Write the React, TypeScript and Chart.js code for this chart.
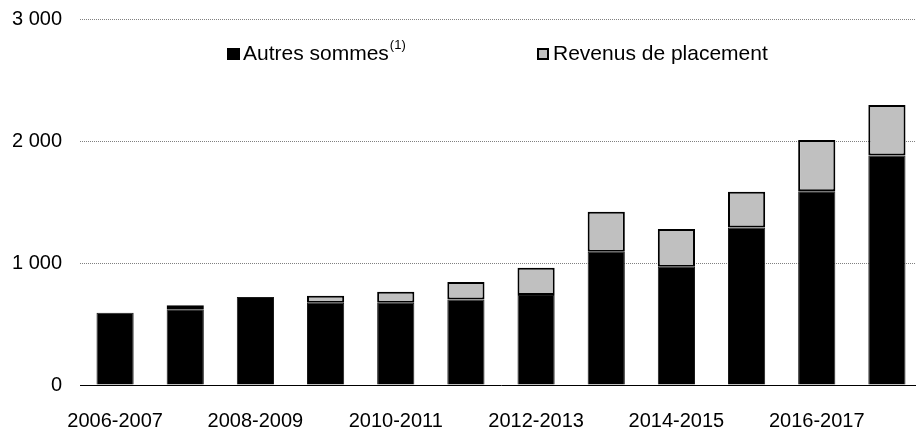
import React, { useEffect, useRef } from "react";
import { Chart, registerables } from "chart.js";

Chart.register(...registerables);

const categories = [
  "2006-2007", "2007-2008", "2008-2009", "2009-2010", "2010-2011", "2011-2012",
  "2012-2013", "2013-2014", "2014-2015", "2015-2016", "2016-2017", "2017-2018",
];
const autresSommes = [592, 620, 722, 675, 675, 700, 738, 1092, 970, 1292, 1588, 1882];
const revenusPlacement = [0, 33, 0, 57, 90, 145, 224, 328, 309, 293, 420, 413];
const yTickValues = [0, 1000, 2000, 3000];
const legendLabels = ["Autres sommes", "Revenus de placement"];
const legendSup = "(1)";

const FONT = '"Liberation Sans", Arial, Helvetica, sans-serif';

const fmt = (v: number) => String(v).replace(/\B(?=(\d{3})+(?!\d))/g, " ");

const legendPlugin = {
  id: "customLegend",
  afterDraw(chart: any) {
    const ctx = chart.ctx as CanvasRenderingContext2D;
    ctx.save();
    ctx.textBaseline = "alphabetic";
    ctx.textAlign = "left";
    // first item
    ctx.fillStyle = "#000";
    ctx.fillRect(227, 48, 13, 12);
    ctx.font = `21px ${FONT}`;
    ctx.fillText(legendLabels[0], 243, 60);
    const w = ctx.measureText(legendLabels[0]).width;
    ctx.font = `13px ${FONT}`;
    ctx.fillText(legendSup, 243 + w + 1, 49);
    // second item
    ctx.fillStyle = "#c0c0c0";
    ctx.fillRect(537, 48, 12, 12);
    ctx.strokeStyle = "#000";
    ctx.lineWidth = 2;
    ctx.strokeRect(538, 49, 10, 10);
    ctx.fillStyle = "#000";
    ctx.font = `21px ${FONT}`;
    ctx.fillText(legendLabels[1], 553, 60);
    ctx.restore();
  },
};

export default function App() {
  const ref = useRef<HTMLCanvasElement | null>(null);

  useEffect(() => {
    if (!ref.current) return;
    const chart = new Chart(ref.current, {
      type: "bar",
      data: {
        labels: categories,
        datasets: [
          {
            label: legendLabels[0],
            data: autresSommes,
            backgroundColor: "#000000",
            borderColor: "#1a1a1a",
            borderWidth: 1,
            borderSkipped: "start",
            barPercentage: 0.53,
            categoryPercentage: 1,
          },
          {
            label: legendLabels[1],
            data: revenusPlacement,
            backgroundColor: "#c0c0c0",
            borderColor: "#000000",
            borderWidth: 2,
            borderSkipped: false,
            barPercentage: 0.53,
            categoryPercentage: 1,
          },
        ],
      },
      options: {
        responsive: false,
        animation: false,
        devicePixelRatio: 1,
        layout: { padding: { top: 19, left: 0, right: 0, bottom: 0 } },
        plugins: {
          legend: { display: false },
          tooltip: { enabled: false },
        },
        scales: {
          x: {
            stacked: true,
            grid: { display: false, drawTicks: false },
            border: { display: true, color: "#000", width: 1 },
            ticks: {
              autoSkip: false,
              maxRotation: 0,
              minRotation: 0,
              padding: 24,
              color: "#000",
              font: { family: FONT, size: 20 },
              callback: (_v: any, i: number) => (i % 2 === 0 ? categories[i] : ""),
            },
            afterFit: (s: any) => {
              s.height = 48;
              s.paddingLeft = 0;
              s.paddingRight = 0;
            },
          },
          y: {
            stacked: true,
            min: 0,
            max: 3000,
            grid: {
              drawTicks: false,
              lineWidth: 1,
              color: (c: any) => (c.tick && c.tick.value === 0 ? "rgba(0,0,0,0)" : "#808080"),
            },
            border: { display: false, dash: [1, 1] },
            afterBuildTicks: (s: any) => {
              s.ticks = yTickValues.map((v) => ({ value: v }));
            },
            ticks: {
              padding: 18,
              color: "#000",
              font: { family: FONT, size: 20 },
              callback: (v: any) => fmt(Number(v)),
            },
            afterFit: (s: any) => {
              s.width = 80;
              s.paddingTop = 0;
              s.paddingBottom = 0;
            },
          },
        },
      },
      plugins: [legendPlugin],
    });
    return () => chart.destroy();
  }, []);

  return (
    <div
      style={{
        position: "fixed",
        left: 0,
        top: 0,
        width: 916,
        height: 433,
        overflow: "hidden",
        background: "#fff",
      }}
    >
      <canvas ref={ref} width={922} height={433} style={{ width: 922, height: 433, display: "block" }} />
    </div>
  );
}
